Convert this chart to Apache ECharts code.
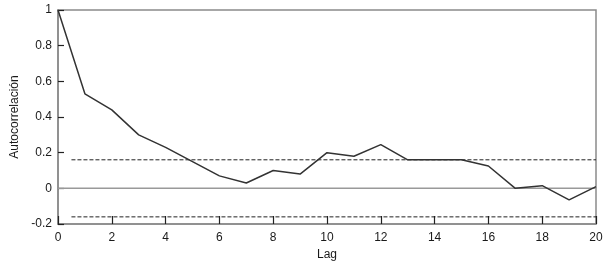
<!DOCTYPE html>
<html><head><meta charset="utf-8">
<script src="https://cdn.jsdelivr.net/npm/echarts@6/dist/echarts.min.js"></script>
<style>html,body{margin:0;padding:0;background:#fff}#c{width:605px;height:262px}</style>
</head><body><div id="c"></div>
<script>
const lags = [0,1,2,3,4,5,6,7,8,9,10,11,12,13,14,15,16,17,18,19,20];
const acf = [1.0,0.53,0.44,0.30,0.23,0.15,0.07,0.03,0.10,0.08,0.20,0.18,0.245,0.16,0.16,0.16,0.125,0.0,0.015,-0.065,0.01];
const confLevel = 0.16;
const confStart = 0.5;
const confEnd = 20;
const xTicks = {min:0, max:20, step:2};
const yTicks = {min:-0.2, max:1, step:0.2};

const font = '"Liberation Sans",Arial,sans-serif';
const chart = echarts.init(document.getElementById('c'));
chart.setOption({
  animation:false,
  grid:{left:58,right:9,top:10,bottom:38,containLabel:false,outerBoundsMode:'none',
    show:true,borderColor:'#8a8a8a',borderWidth:1.5,backgroundColor:'#fff'},
  xAxis:{type:'value',min:xTicks.min,max:xTicks.max,interval:xTicks.step,
    name:'Lag',nameLocation:'middle',nameGap:24,
    nameTextStyle:{color:'#1a1a1a',fontFamily:font,fontSize:12},
    axisLine:{show:true,onZero:false,lineStyle:{color:'#8a8a8a',width:1.5}},
    axisTick:{show:true,inside:true,length:8,lineStyle:{color:'#222',width:1.2}},
    splitLine:{show:false},
    axisLabel:{color:'#1a1a1a',fontFamily:font,fontSize:12,margin:8}},
  yAxis:{type:'value',min:yTicks.min,max:yTicks.max,interval:yTicks.step,
    name:'Autocorrelación',nameLocation:'middle',nameGap:36,
    nameTextStyle:{color:'#1a1a1a',fontFamily:font,fontSize:12},
    axisLine:{show:true,onZero:false,lineStyle:{color:'#8a8a8a',width:1.5}},
    axisTick:{show:true,inside:true,length:6,lineStyle:{color:'#222',width:1.2}},
    splitLine:{show:false},
    axisLabel:{color:'#1a1a1a',fontFamily:font,fontSize:12,margin:6}},
  series:[
    {type:'line',data:[[xTicks.min,0],[xTicks.max,0]],symbol:'none',silent:true,
     lineStyle:{color:'#999',width:1.5},z:1},
    {type:'line',data:[[confStart,confLevel],[confEnd,confLevel]],symbol:'none',silent:true,
     lineStyle:{color:'#222',width:1,type:[4,2]},z:2},
    {type:'line',data:[[confStart,-confLevel],[confEnd,-confLevel]],symbol:'none',silent:true,
     lineStyle:{color:'#222',width:1,type:[4,2]},z:2},
    {type:'line',data:lags.map((l,i)=>[l,acf[i]]),symbol:'none',
     lineStyle:{color:'#333',width:1.5},z:3}
  ]
});
</script></body></html>
